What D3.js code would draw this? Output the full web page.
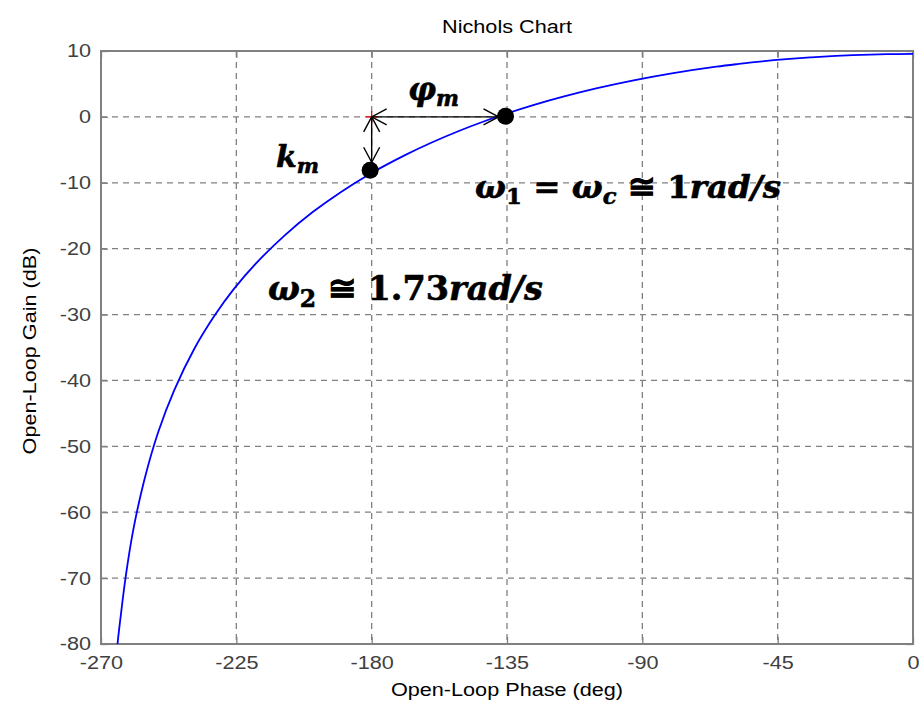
<!DOCTYPE html>
<html>
<head>
<meta charset="utf-8">
<script src="https://d3js.org/d3.v7.min.js"></script>
<style>
  body { margin: 0; background: #fff; }
  text { font-family: "Liberation Sans", Arial, sans-serif; }
  .math { font-family: "DejaVu Serif", serif; font-weight: bold; font-style: italic; fill: #000; }
  .up { font-style: normal; }
</style>
</head>
<body>
<svg width="923" height="714"></svg>
<script>
// open-loop curve: phase (deg) and gain (dB)
const phase = [0, -8.6, -17.1, -25.6, -33.9, -42.1, -50.1, -57.9, -65.4, -79.7, -92.9, -105.0, -116.0,
  -126.0, -135.0, -143.2, -150.6, -160.4, -168.9, -180.0, -190.3, -199.5, -209.0, -217.9, -225.8,
  -232.4, -239.1, -245.6, -251.0, -255.7, -259.3, -261.8, -263.6, -264.5, -265.1];
const gain = [9.55, 9.52, 9.42, 9.26, 9.04, 8.76, 8.43, 8.04, 7.62, 6.64, 5.54, 4.35, 3.10,
  1.82, 0.52, -0.78, -2.07, -3.97, -5.81, -8.51, -11.42, -14.41, -18.01, -21.97, -26.11,
  -30.27, -35.30, -41.42, -47.86, -55.29, -62.75, -69.81, -76.35, -79.95, -83.1];

const xTicks = [-270, -225, -180, -135, -90, -45, 0];
const yTicks = [-80, -70, -60, -50, -40, -30, -20, -10, 0, 10];

// the two marked points (k_m end and phase crossover)
const dotPhase = [-180.5, -135.5];
const dotGain = [-8.1, 0.1];

const svg = d3.select("svg");
const x = d3.scaleLinear().domain([-270, 0]).range([101, 913]);
const y = d3.scaleLinear().domain([-80, 10]).range([644, 51]);
const sx = 1.17; // reference text is a bit stretched horizontally

const defs = svg.append("defs");
defs.append("clipPath").attr("id", "plot")
  .append("rect").attr("x", x(-270)).attr("y", y(10))
  .attr("width", x(0) - x(-270)).attr("height", y(-80) - y(10));
defs.append("marker").attr("id", "head")
  .attr("viewBox", "-1 -10 18 20").attr("refX", 16).attr("refY", 0)
  .attr("markerUnits", "userSpaceOnUse").attr("markerWidth", 18).attr("markerHeight", 20)
  .attr("orient", "auto-start-reverse")
  .append("path").attr("d", "M1,-8 L16,0 L1,8")
  .attr("fill", "none").attr("stroke", "#000").attr("stroke-width", 1.4);

// grid
svg.append("g").selectAll("line")
  .data(xTicks.slice(1, -1)).enter().append("line")
  .attr("x1", d => x(d)).attr("x2", d => x(d))
  .attr("y1", y(10)).attr("y2", y(-80))
  .attr("stroke", "#808080").attr("stroke-width", 1.3).attr("stroke-dasharray", "6,5");
svg.append("g").selectAll("line")
  .data(yTicks.slice(1, -1)).enter().append("line")
  .attr("x1", x(-270)).attr("x2", x(0))
  .attr("y1", d => y(d)).attr("y2", d => y(d))
  .attr("stroke", "#808080").attr("stroke-width", 1.3).attr("stroke-dasharray", "6,5");

// axes
function styleAxis(g) {
  g.select(".domain").remove();
  g.selectAll(".tick line").attr("stroke", "#808080").attr("stroke-width", 1.3);
  g.selectAll(".tick text").attr("fill", "#404040").style("font-size", "18.5px");
}
const plain = d => String(d);
svg.append("g").attr("transform", `translate(0,${y(-80)})`)
  .call(d3.axisBottom(x).tickValues(xTicks).tickSize(-7).tickPadding(12).tickFormat(plain))
  .call(styleAxis)
  .selectAll(".tick text").attr("transform", `scale(${sx},1)`);
svg.append("g").attr("transform", `translate(${x(-270)},0)`)
  .call(d3.axisLeft(y).tickValues(yTicks).tickSize(-7).tickPadding(10).tickFormat(plain))
  .call(styleAxis)
  .selectAll(".tick text").attr("x", -10 / sx).attr("transform", `scale(${sx},1)`);
svg.append("g").attr("transform", `translate(0,${y(10)})`)
  .call(d3.axisTop(x).tickValues(xTicks).tickSize(-7).tickFormat(""))
  .call(styleAxis);
svg.append("g").attr("transform", `translate(${x(0)},0)`)
  .call(d3.axisRight(y).tickValues(yTicks).tickSize(-7).tickFormat(""))
  .call(styleAxis);

svg.append("rect")
  .attr("x", x(-270)).attr("y", y(10))
  .attr("width", x(0) - x(-270)).attr("height", y(-80) - y(10))
  .attr("fill", "none").attr("stroke", "#808080").attr("stroke-width", 2);

// curve
const pts = phase.map((p, i) => [p, gain[i]]);
svg.append("path").datum(pts)
  .attr("clip-path", "url(#plot)")
  .attr("d", d3.line().x(d => x(d[0])).y(d => y(d[1])).curve(d3.curveCatmullRom))
  .attr("fill", "none").attr("stroke", "#0000ff").attr("stroke-width", 1.8);

// margins: red cross, arrows, dots
svg.append("path")
  .attr("d", `M${x(-180) - 6},${y(0)}h12M${x(-180)},${y(0) - 6}v12`)
  .attr("stroke", "#ff0000").attr("stroke-width", 1.3);
svg.append("line")
  .attr("x1", x(-180)).attr("y1", y(0)).attr("x2", x(dotPhase[1]) - 7).attr("y2", y(0))
  .attr("stroke", "#000").attr("stroke-width", 1.4)
  .attr("marker-start", "url(#head)").attr("marker-end", "url(#head)");
svg.append("line")
  .attr("x1", x(-180)).attr("y1", y(0)).attr("x2", x(-180)).attr("y2", y(dotGain[0]) - 8)
  .attr("stroke", "#000").attr("stroke-width", 1.4)
  .attr("marker-start", "url(#head)").attr("marker-end", "url(#head)");
svg.append("g").selectAll("circle")
  .data(dotPhase).enter().append("circle")
  .attr("cx", d => x(d)).attr("cy", (d, i) => y(dotGain[i]))
  .attr("r", 8.5).attr("fill", "#000");

// labels
function mathText(px, py, size, parts) {
  const t = svg.append("text").attr("class", "math")
    .attr("x", x(px)).attr("y", y(py)).style("font-size", size + "px")
    .attr("stroke", "#000").attr("stroke-width", 0.6);
  let shift = 0;
  parts.forEach(p => {
    const s = t.append("tspan").text(p.t);
    if (p.up) s.attr("class", "up");
    const want = p.sub ? size * 0.2 : 0;
    s.attr("dy", want - shift);
    shift = want;
    if (p.sub) s.style("font-size", (size * 0.7) + "px");
  });
  return t;
}
mathText(-167.9, 2.6, 31, [{t: "φ"}, {t: "m", sub: true}]);
mathText(-211.8, -7.6, 30, [{t: "k"}, {t: "m", sub: true}]);
mathText(-145.6, -12.3, 32.5, [{t: "ω"}, {t: "1", sub: true, up: true}, {t: " = ", up: true},
  {t: "ω"}, {t: "c", sub: true}, {t: " ≅ ", up: true}, {t: "1", up: true}, {t: "rad/s"}]);
mathText(-214.5, -27.8, 33.5, [{t: "ω"}, {t: "2", sub: true, up: true}, {t: " ≅ ", up: true},
  {t: "1.73", up: true}, {t: "rad/s"}]);

// titles
svg.append("g").attr("transform", `translate(${(x(-270) + x(0)) / 2},33)`)
  .append("text").attr("text-anchor", "middle").attr("transform", `scale(${sx},1)`)
  .style("font-size", "18.5px").text("Nichols Chart");
svg.append("g").attr("transform", `translate(${(x(-270) + x(0)) / 2},696)`)
  .append("text").attr("text-anchor", "middle").attr("transform", `scale(${sx},1)`)
  .style("font-size", "18.5px").text("Open-Loop Phase (deg)");
svg.append("g").attr("transform", `translate(36,351) rotate(-90)`)
  .append("text").attr("text-anchor", "middle").attr("transform", `scale(${sx},1)`)
  .style("font-size", "18.5px").text("Open-Loop Gain (dB)");
</script>
</body>
</html>
